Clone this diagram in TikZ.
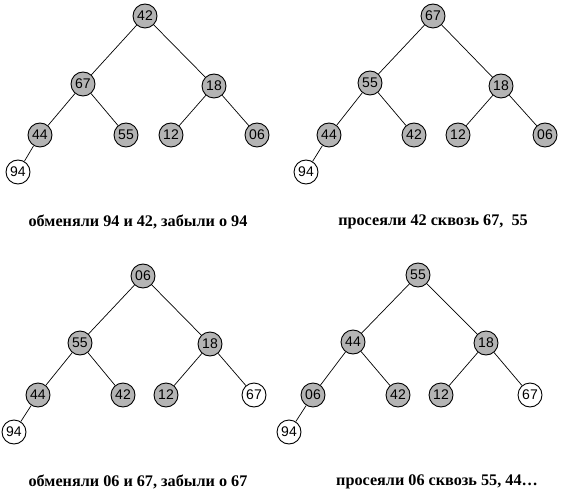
\documentclass[tikz,border=0pt]{standalone}
\usepackage{fontspec}
\setmainfont{Liberation Serif}
\newfontfamily\keyfont{Liberation Sans}
\definecolor{heapGray}{RGB}{180,180,180}
\tikzset{
  heapnode/.style={circle, draw=black, fill=heapGray, line width=0.9pt,
    minimum size=24pt, inner sep=0pt, font=\keyfont\fontsize{14}{16}\selectfont},
  donenode/.style={heapnode, fill=white},
  heapedge/.style={draw=black, line width=0.7pt},
  caption/.style={font=\bfseries\fontsize{16.2}{18}\selectfont, inner sep=0pt}
}
\begin{document}
\begin{tikzpicture}[x=1pt, y=-1pt]
% page frame, one unit per pixel of the sheet
\useasboundingbox (0,0) rectangle (561,494);
% Tree 1: 94 swapped with 42
\node[heapnode] (a1) at (145,16) {42};
\node[heapnode] (a2) at (83,84) {67};
\node[heapnode] (a3) at (214,86) {18};
\node[heapnode] (a4) at (40,135) {44};
\node[heapnode] (a5) at (126,135) {55};
\node[heapnode] (a6) at (171,135) {12};
\node[heapnode] (a7) at (257,135) {06};
\node[donenode] (a8) at (18,172) {94};
\draw[heapedge] (a1) -- (a2);
\draw[heapedge] (a1) -- (a3);
\draw[heapedge] (a2) -- (a4);
\draw[heapedge] (a2) -- (a5);
\draw[heapedge] (a3) -- (a6);
\draw[heapedge] (a3) -- (a7);
\draw[heapedge] (a4) -- (a8);
\node[caption] (capA) at (138,222) {обменяли 94 и 42, забыли о 94};
% Tree 2: 42 sifted down
\node[heapnode] (b1) at (433,16) {67};
\node[heapnode] (b2) at (370,83) {55};
\node[heapnode] (b3) at (501,86) {18};
\node[heapnode] (b4) at (329,135) {44};
\node[heapnode] (b5) at (414,135) {42};
\node[heapnode] (b6) at (458,135) {12};
\node[heapnode] (b7) at (545,135) {06};
\node[donenode] (b8) at (306,172) {94};
\draw[heapedge] (b1) -- (b2);
\draw[heapedge] (b1) -- (b3);
\draw[heapedge] (b2) -- (b4);
\draw[heapedge] (b2) -- (b5);
\draw[heapedge] (b3) -- (b6);
\draw[heapedge] (b3) -- (b7);
\draw[heapedge] (b4) -- (b8);
\node[caption] (capB) at (433,222) {просеяли 42 сквозь 67,\ \ 55};
% Tree 3: 06 swapped with 67
\node[heapnode] (c1) at (143,276) {06};
\node[heapnode] (c2) at (80,343) {55};
\node[heapnode] (c3) at (210,344) {18};
\node[heapnode] (c4) at (38,395) {44};
\node[heapnode] (c5) at (123,395) {42};
\node[heapnode] (c6) at (166,395) {12};
\node[donenode] (c7) at (254,395) {67};
\node[donenode] (c8) at (14,432) {94};
\draw[heapedge] (c1) -- (c2);
\draw[heapedge] (c1) -- (c3);
\draw[heapedge] (c2) -- (c4);
\draw[heapedge] (c2) -- (c5);
\draw[heapedge] (c3) -- (c6);
\draw[heapedge] (c3) -- (c7);
\draw[heapedge] (c4) -- (c8);
\node[caption] (capC) at (138,482) {обменяли 06 и 67, забыли о 67};
% Tree 4: 06 sifted down
\node[heapnode] (d1) at (418,275) {55};
\node[heapnode] (d2) at (353,342) {44};
\node[heapnode] (d3) at (486,343) {18};
\node[heapnode] (d4) at (313,395) {06};
\node[heapnode] (d5) at (398,395) {42};
\node[heapnode] (d6) at (441,395) {12};
\node[donenode] (d7) at (530,395) {67};
\node[donenode] (d8) at (289,432) {94};
\draw[heapedge] (d1) -- (d2);
\draw[heapedge] (d1) -- (d3);
\draw[heapedge] (d2) -- (d4);
\draw[heapedge] (d2) -- (d5);
\draw[heapedge] (d3) -- (d6);
\draw[heapedge] (d3) -- (d7);
\draw[heapedge] (d4) -- (d8);
\node[caption] (capD) at (437,482) {просеяли 06 сквозь 55, 44…};
\end{tikzpicture}
\end{document}
